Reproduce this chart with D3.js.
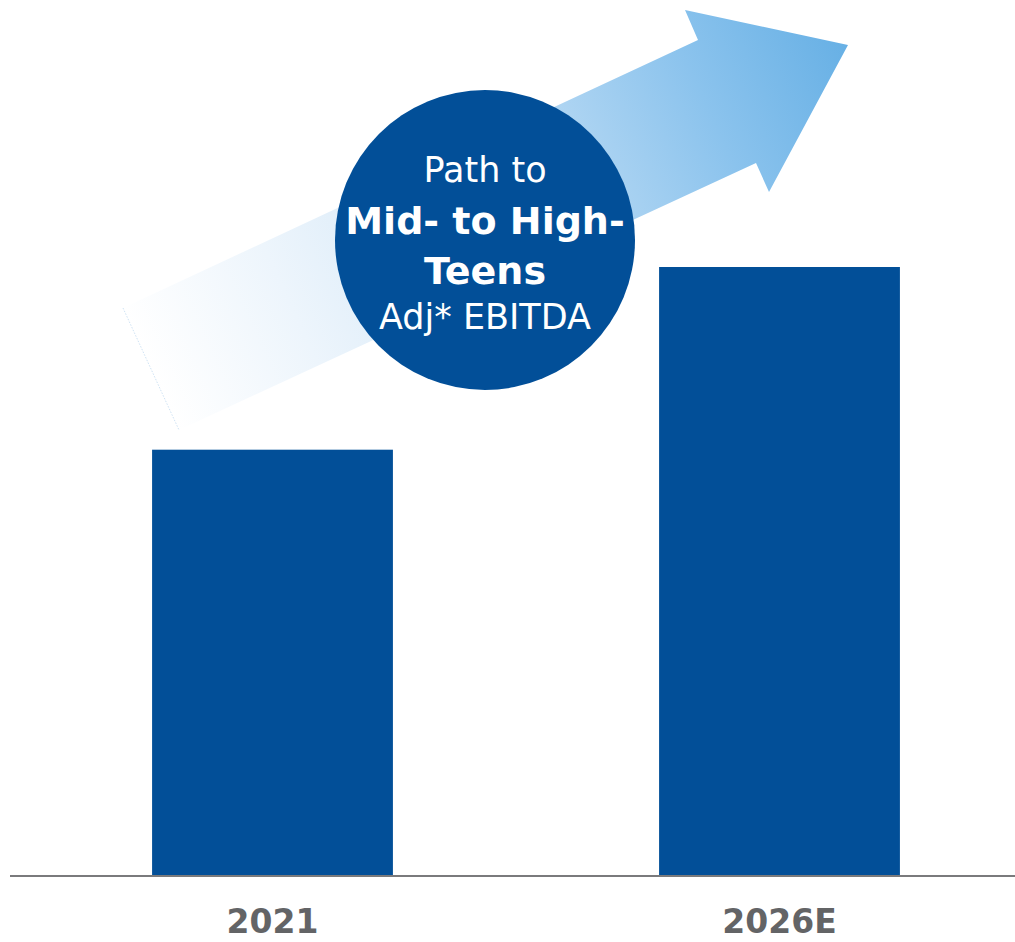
<!DOCTYPE html>
<html>
<head>
<meta charset="utf-8">
<script src="https://cdn.jsdelivr.net/npm/d3@7"></script>
<style>
  html, body { margin: 0; padding: 0; background: #ffffff; }
  svg { display: block; }
</style>
</head>
<body>
<svg id="chart" width="1015" height="942"></svg>
<script>
// Adjusted EBITDA margin, indexed (2026E = 10)
const categories = ["2021", "2026E"];
const values = [7.0, 10.0];
const calloutLines = [
  { text: "Path to", bold: false },
  { text: "Mid- to High-", bold: true },
  { text: "Teens", bold: true },
  { text: "Adj* EBITDA", bold: false }
];

const W = 1015, H = 942;
const baseY = 876;
const svg = d3.select("#chart");

const x = d3.scaleBand()
  .domain(categories)
  .range([19, 1033])
  .paddingInner(0.525)
  .paddingOuter(0.2625);

const y = d3.scaleLinear()
  .domain([0, 10])
  .range([baseY, 267]);

// Growth arrow with a fading blue gradient
const defs = svg.append("defs");
const grad = defs.append("linearGradient")
  .attr("id", "arrowGrad")
  .attr("gradientUnits", "userSpaceOnUse")
  .attr("x1", 151).attr("y1", 369)
  .attr("x2", 848).attr("y2", 45);
[
  [0, "#ffffff"],
  [0.2, "#edf5fc"],
  [0.4, "#d9eaf8"],
  [0.6, "#b3d7f3"],
  [0.8, "#8bc3ed"],
  [1, "#67b0e5"]
].forEach(([o, c]) => grad.append("stop").attr("offset", o).attr("stop-color", c));

const arrowPts = [
  [123, 308], [698, 40], [685, 10], [848, 45],
  [769, 192], [756, 163], [179, 430]
];
svg.append("path")
  .attr("d", d3.line()(arrowPts) + "Z")
  .attr("fill", "url(#arrowGrad)");
svg.append("line")
  .attr("x1", 123).attr("y1", 308).attr("x2", 179).attr("y2", 430)
  .attr("stroke", "#cfe3f4").attr("stroke-width", 1)
  .attr("stroke-dasharray", "1.5,1.5");

// Bars
svg.append("g")
  .selectAll("rect")
  .data(categories.map((c, i) => ({ c, v: values[i] })))
  .join("rect")
  .attr("x", d => x(d.c))
  .attr("y", d => y(d.v))
  .attr("width", x.bandwidth())
  .attr("height", d => y(0) - y(d.v))
  .attr("fill", "#024f98");

// Baseline
svg.append("line")
  .attr("x1", 10).attr("x2", W)
  .attr("y1", baseY).attr("y2", baseY)
  .attr("stroke", "#7a7a7c").attr("stroke-width", 2);

// Category labels
const xAxis = d3.axisBottom(x).tickSize(0).tickPadding(0);
const gx = svg.append("g").attr("transform", `translate(0,${baseY})`).call(xAxis);
gx.select(".domain").remove();
gx.selectAll("text")
  .attr("dy", null)
  .attr("y", 57)
  .attr("font-family", "'DejaVu Sans', sans-serif")
  .attr("font-weight", "bold")
  .attr("font-size", 33)
  .attr("fill", "#636466");

// Callout circle
const cx = 485, cy = 240;
svg.append("circle")
  .attr("cx", cx).attr("cy", cy).attr("r", 150)
  .attr("fill", "#024f98");

const baselines = [182, 234, 284, 329];
svg.append("g")
  .selectAll("text")
  .data(calloutLines)
  .join("text")
  .attr("x", cx)
  .attr("y", (d, i) => baselines[i])
  .attr("text-anchor", "middle")
  .attr("font-family", "'DejaVu Sans', sans-serif")
  .attr("font-weight", d => d.bold ? "bold" : "normal")
  .attr("font-size", d => d.bold ? 38 : 35)
  .attr("fill", "#ffffff")
  .text(d => d.text);
</script>
</body>
</html>
